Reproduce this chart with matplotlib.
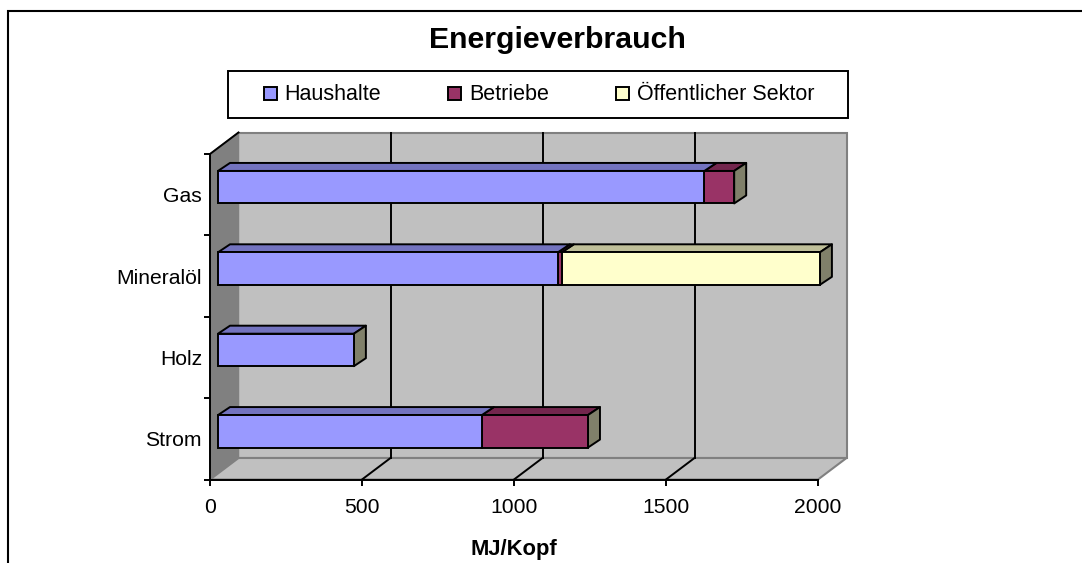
# -*- coding: utf-8 -*-
"""Energieverbrauch: gestapelte Balken im Excel-3D-Stil."""

import matplotlib
matplotlib.use("Agg")
import matplotlib.pyplot as plt
import numpy as np
from matplotlib.patches import Polygon, Rectangle

categories = ["Strom", "Holz", "Mineralöl", "Gas"]
series_names = ["Haushalte", "Betriebe", "Öffentlicher Sektor"]
haushalte = [868, 447, 1118, 1600]
betriebe = [349, 0, 13, 98]
oeffentlich = [0, 0, 849, 0]
x_ticks = [0, 500, 1000, 1500, 2000]

face_cols = ["#9999ff", "#993366", "#ffffcc"]
top_cols = ["#7373bf", "#73264d", "#bfbf99"]

W, H = 1082, 563
plt.rcParams["font.family"] = ["Liberation Sans", "DejaVu Sans"]

fig = plt.figure(figsize=(W / 100, H / 100), dpi=100)
fig.patch.set_facecolor("white")

# Rahmen um das Diagramm, rechts und unten abgeschnitten
fig.add_artist(Rectangle((8 / W, -0.05), 1.1, 1.05 - 11 / H, transform=fig.transFigure,
                         facecolor="none", edgecolor="black", linewidth=1.5))

# Achse = vordere Kante des Bodens
left, right, top, bottom = 210, 818, 154, 479.5
ax = fig.add_axes([left / W, 1 - bottom / H, (right - left) / W, (bottom - top) / H])
ax.set_xlim(0, 2000)
ax.set_ylim(-0.5, 3.5)
ax.patch.set_visible(False)

ux = 2000 / (right - left)  # Werte pro Pixel
uy = 4 / (bottom - top)
wall_dx, wall_dy = 28.5 * ux, 21.5 * uy
bar_dx, bar_dy = 8 * ux, 7.5 * uy
depth_dx, depth_dy = 12 * ux, 8 * uy
bar_h = 32.5 * uy

x0, x1, y0, y1 = 0, 2000, -0.5, 3.5
grey_edge = "#808080"
# Rueckwand, Seitenwand, Boden
ax.add_patch(Polygon([(x0 + wall_dx, y0 + wall_dy), (x1 + wall_dx, y0 + wall_dy),
                      (x1 + wall_dx, y1 + wall_dy), (x0 + wall_dx, y1 + wall_dy)],
                     facecolor="#c0c0c0", edgecolor=grey_edge, lw=1.5, clip_on=False, zorder=1))
ax.add_patch(Polygon([(x0, y0), (x0 + wall_dx, y0 + wall_dy), (x0 + wall_dx, y1 + wall_dy), (x0, y1)],
                     facecolor="#808080", edgecolor=grey_edge, lw=1, clip_on=False, zorder=1))
ax.add_patch(Polygon([(x0, y0), (x1, y0), (x1 + wall_dx, y0 + wall_dy), (x0 + wall_dx, y0 + wall_dy)],
                     facecolor="#c0c0c0", edgecolor=grey_edge, lw=1.5, clip_on=False, zorder=1))

# Gitterlinien, die letzte bei 2000 bleibt grau
for t in x_ticks[1:-1]:
    ax.plot([t + wall_dx, t + wall_dx], [y0 + wall_dy, y1 + wall_dy], color="black", lw=1.4,
            clip_on=False, zorder=2)
    ax.plot([t, t + wall_dx], [y0, y0 + wall_dy], color="black", lw=1.4, clip_on=False, zorder=2)
ax.plot([x0, x0 + wall_dx], [y1, y1 + wall_dy], color="black", lw=1.4, clip_on=False, zorder=2)

# Balken von hinten nach vorn, Segmente von rechts nach links
y_pos = np.arange(len(categories))
stacks = np.array([haushalte, betriebe, oeffentlich], dtype=float)
for i in y_pos[::-1]:
    starts = np.concatenate([[0], np.cumsum(stacks[:, i])[:-1]])
    last = max(k for k in range(3) if stacks[k, i] > 0)
    for k in range(last, -1, -1):
        if stacks[k, i] <= 0:
            continue
        xa = starts[k] + bar_dx
        xb = xa + stacks[k, i]
        ya = y_pos[i] + bar_dy - bar_h / 2
        yb = ya + bar_h
        ax.add_patch(Polygon([(xa, yb), (xb, yb), (xb + depth_dx, yb + depth_dy), (xa + depth_dx, yb + depth_dy)],
                             facecolor=top_cols[k], edgecolor="black", lw=1.4, clip_on=False,
                             joinstyle="round", zorder=3))
        if k == last:
            ax.add_patch(Polygon([(xb, ya), (xb + depth_dx, ya + depth_dy), (xb + depth_dx, yb + depth_dy), (xb, yb)],
                                 facecolor="#80806a", edgecolor="black", lw=1.4, clip_on=False,
                                 joinstyle="round", zorder=3))
        ax.barh(y_pos[i] + bar_dy, stacks[k, i], left=xa, height=bar_h, color=face_cols[k],
                edgecolor="black", linewidth=1.4, clip_on=False, zorder=4)

for s in ["top", "right"]:
    ax.spines[s].set_visible(False)
for s in ["left", "bottom"]:
    ax.spines[s].set_linewidth(1.4)
    ax.spines[s].set_zorder(5)

ax.set_xticks(x_ticks)
ax.set_yticks(np.arange(-0.5, 4, 1))
ax.set_yticklabels([])
ax.set_yticks(y_pos, categories, minor=True)
ax.tick_params(axis="y", which="minor", length=0, labelsize=15.2, pad=5.8)
ax.tick_params(axis="y", which="major", length=4, width=1.4)
ax.tick_params(axis="x", length=4, width=1.4, labelsize=15.2, pad=9)
ax.set_xlabel("MJ/Kopf", fontsize=15.8, fontweight="bold", labelpad=16.5)

fig.text(557.5 / W, 1 - 40.5 / H, "Energieverbrauch", fontsize=21.8, fontweight="bold", ha="center", va="center")

# Legende von Hand, die Spalten in Excel sind nicht gleich weit
fig.add_artist(Rectangle((228 / W, 1 - 117.5 / H), 620 / W, 46.5 / H, transform=fig.transFigure,
                         facecolor="white", edgecolor="black", linewidth=1.4))
marker_x = [263.5, 448, 616]
for name, col, mx in zip(series_names, face_cols, marker_x):
    fig.add_artist(Rectangle((mx / W, 1 - 100 / H), 13 / W, 13 / H, transform=fig.transFigure,
                             facecolor=col, edgecolor="black", linewidth=1.4))
    fig.text((mx + 21) / W, 1 - 94 / H, name, fontsize=15.5, ha="left", va="center")

fig.savefig("out.png", dpi=100)
